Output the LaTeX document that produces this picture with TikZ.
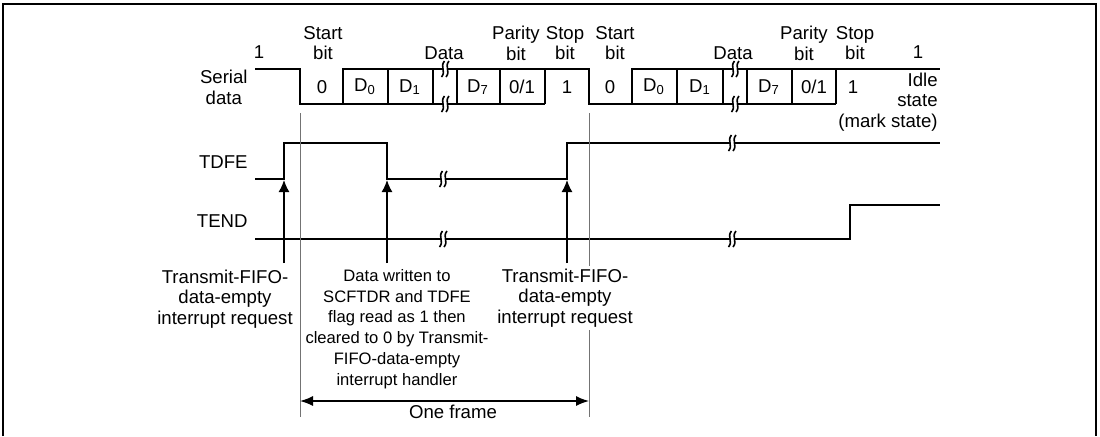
\documentclass[tikz,border=0pt]{standalone}
\usepackage{fontspec}
\setmainfont{Liberation Sans}
\usetikzlibrary{arrows.meta}
\usetikzlibrary{math}

% break mark on a signal line at (x,y)
\newcommand{\brkmark}[2]{
\fill[white] (#1-2.5,#2-4) rectangle (#1+2.5,#2+4);
\draw[line width=0.8pt] (#1-0.5,#2-8) .. controls (#1-5.5,#2-2) and (#1+1.5,#2+2) .. (#1-3.5,#2+8);
\draw[line width=0.8pt] (#1+4,#2-8) .. controls (#1-1,#2-2) and (#1+6,#2+2) .. (#1+1,#2+8);
}

\begin{document}
\begin{tikzpicture}[x=0.5pt,y=-0.5pt,
  sig/.style={line width=1.3pt},
  pointer/.style={line width=0.7pt,-{Latex[length=6pt,width=5.5pt]}},
  guide/.style={black!55,line width=0.5pt},
  lbl/.style={inner sep=0pt,align=center,font=\fontsize{9.3}{10.4}\selectfont}]
\tikzmath{
\sdH=69; \sdL=104;
\tfH=143; \tfL=179;
\teH=205; \teL=239;
}

\useasboundingbox (0,0) rectangle (1100,436);
\draw[line width=1.2pt] (3,436) -- (3,4) -- (1096,4) -- (1096,436);

% serial data
\draw[sig] (255,\sdH) -- (300,\sdH) -- (300,\sdL) -- (545,\sdL);
\draw[sig] (343,\sdL) -- (343,\sdH) -- (589,\sdH) -- (589,\sdL) -- (836,\sdL);
\draw[sig] (632,\sdL) -- (632,\sdH) -- (940,\sdH);
\foreach \x in {388,433,457,500,545,677,723,747,792,836}
  \draw[sig] (\x,\sdH) -- (\x,\sdL);

% TDFE and TEND
\draw[sig] (255,\tfL) -- (284,\tfL) -- (284,\tfH) -- (387,\tfH) -- (387,\tfL) -- (567,\tfL) -- (567,\tfH) -- (940,\tfH);
\draw[sig] (255,\teL) -- (850,\teL) -- (850,\teH) -- (940,\teH);

\foreach \x/\y in {445/\sdH,445/\sdL,735/\sdH,735/\sdL,443/\tfL,732/\tfH,443/\teL,732/\teL}
  \brkmark{\x}{\y};

% frame limits
\coordinate (fs) at (300,401);
\coordinate (fe) at (589,401);
\draw[guide] (300,113) -- (300,417);
\draw[guide] (589,113) -- (589,417);
\draw[line width=0.7pt,{Latex[length=6.5pt,width=5pt]}-{Latex[length=6.5pt,width=5pt]}] (fs) -- (fe);
\node[lbl] (frm) at (453,412) {One frame};

% labels
\node[lbl,anchor=east] (sdlbl) at (248,87) {Serial\\data};
\node[lbl,anchor=east] (tflbl) at (248,162) {TDFE};
\node[lbl,anchor=east] (telbl) at (248,221) {TEND};
\node[lbl] (one1) at (259,52) {1};
\node[lbl] (one2) at (918,52) {1};
\node[lbl] (start1) at (323,43) {Start\\bit};
\node[lbl] (start2) at (615,43) {Start\\bit};
\node[lbl] (data1) at (444,53) {Data};
\node[lbl] (data2) at (733,53) {Data};
\node[lbl] (par1) at (516,43) {Parity\\bit};
\node[lbl] (par2) at (804,43) {Parity\\bit};
\node[lbl] (stop1) at (565,43) {Stop\\bit};
\node[lbl] (stop2) at (855,43) {Stop\\bit};
\node[lbl,align=right,anchor=east] (idle) at (938,102) {Idle\\state\\(mark state)};

% bit values
\foreach \x/\t [count=\i] in {322/0,365/D\textsubscript{0},410/D\textsubscript{1},478/D\textsubscript{7},522/0\slash 1,567/1,
  610/0,654/D\textsubscript{0},700/D\textsubscript{1},769/D\textsubscript{7},814/0\slash 1,853/1}
  \node[lbl] (bit\i) at (\x,87) {\t};

% interrupt requests
\coordinate (rq1) at (284,263);
\coordinate (rq2) at (387,263);
\coordinate (rq3) at (567,263);
\draw[pointer] (rq1) -- (284,\tfL+1);
\draw[pointer] (rq2) -- (387,\tfL+1);
\draw[pointer] (rq3) -- (567,\tfL+1);
\node[lbl] (req1) at (225,299) {Transmit-FIFO-\\data-empty\\interrupt request};
\node[lbl,font=\fontsize{8.3}{10.4}\selectfont] (hnd) at (397,329) {Data written to\\SCFTDR and TDFE\\flag read as 1 then\\cleared to 0 by Transmit-\\FIFO-data-empty\\interrupt handler};
\node[lbl,fill=white,inner sep=1.5pt] (req2) at (565,298) {Transmit-FIFO-\\data-empty\\interrupt request};

\end{tikzpicture}
\end{document}
